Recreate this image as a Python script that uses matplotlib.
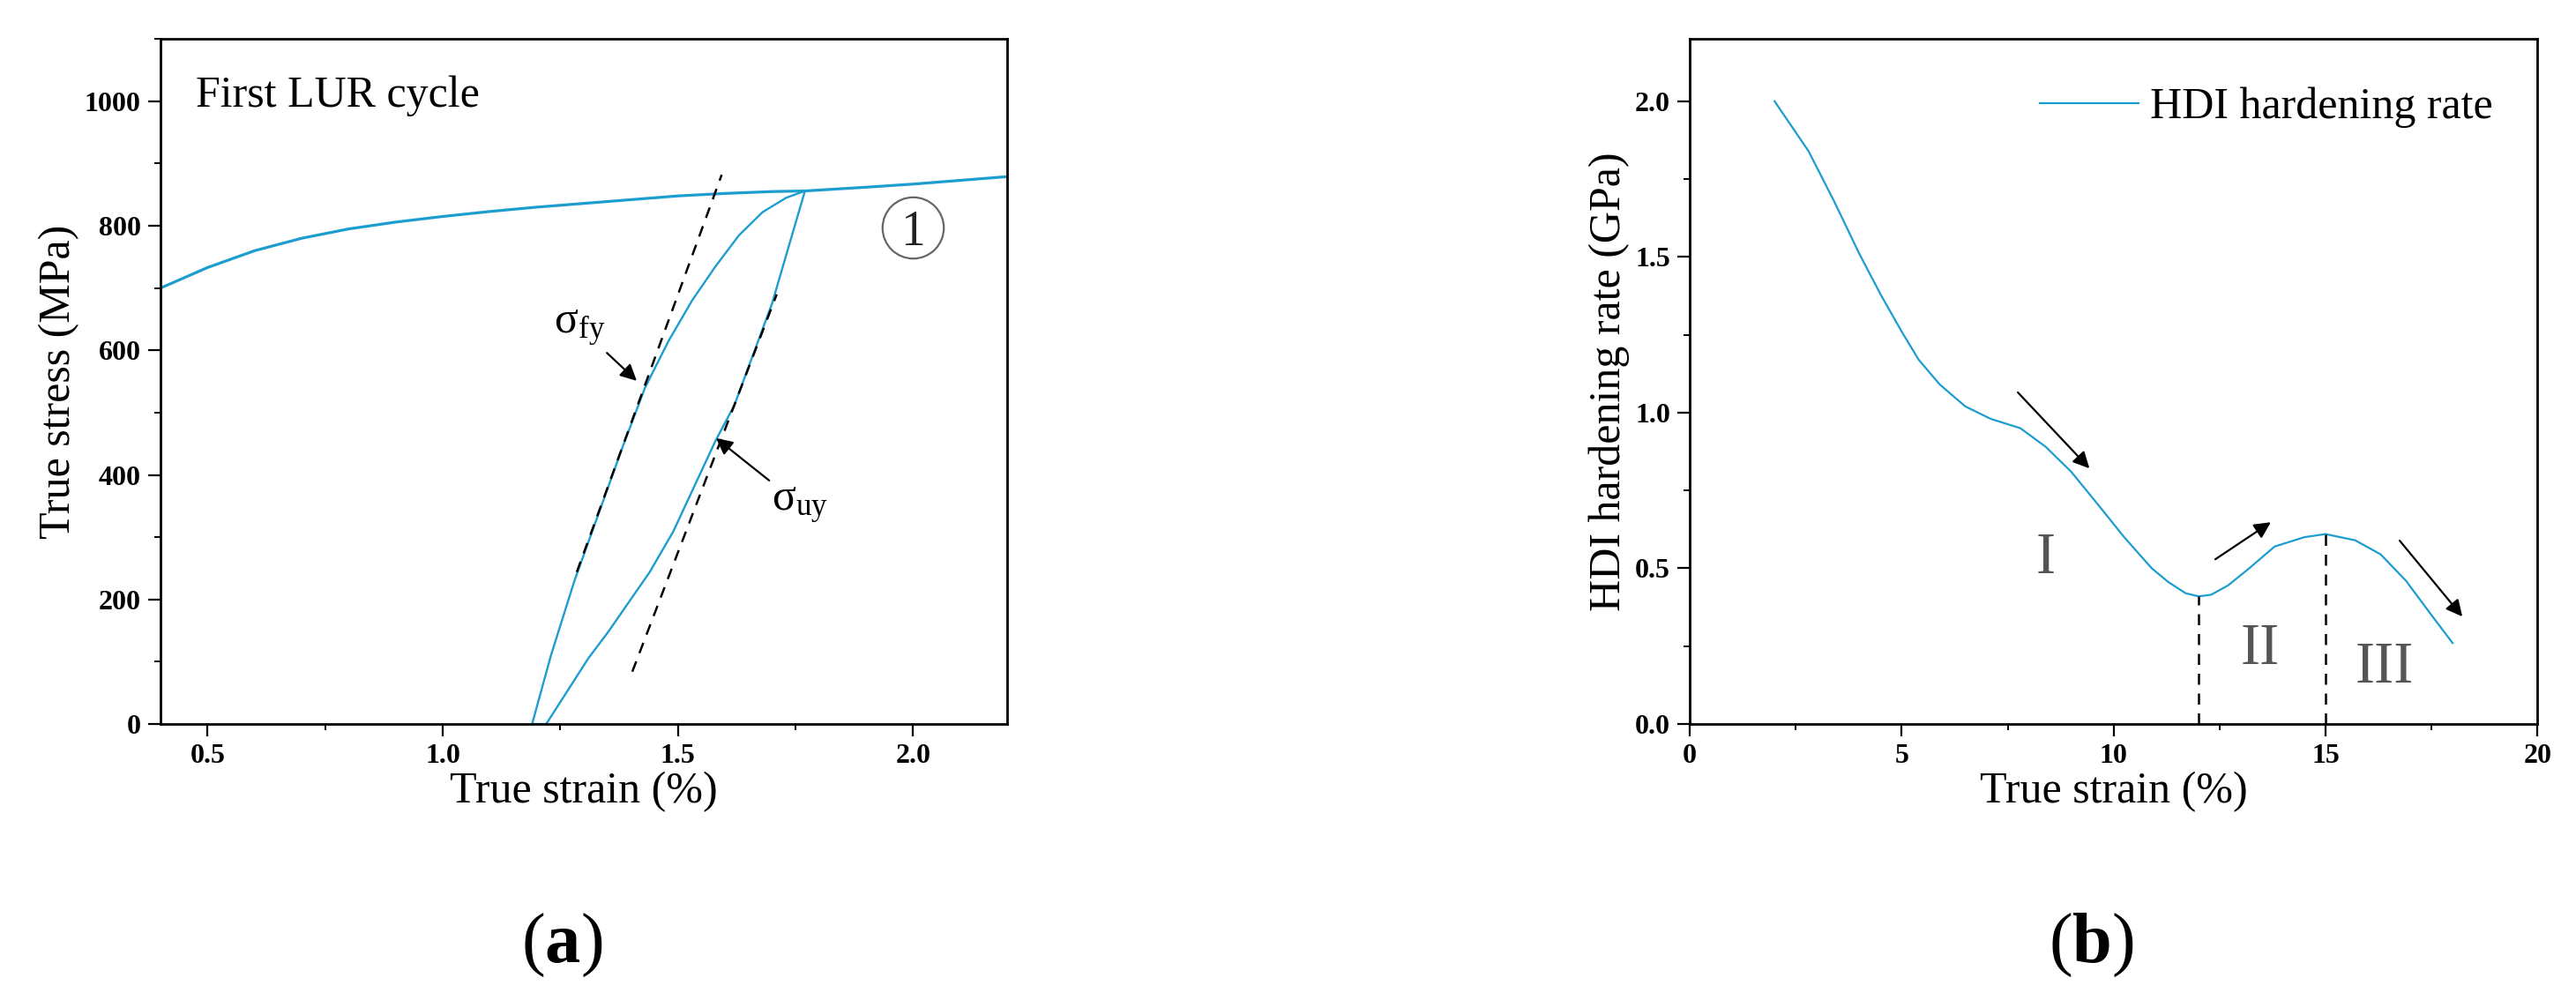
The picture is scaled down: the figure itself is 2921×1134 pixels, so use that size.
import matplotlib

matplotlib.use("Agg")
import matplotlib.pyplot as plt  # noqa: E402
from matplotlib.ticker import MultipleLocator  # noqa: E402

plt.rcParams["font.family"] = ["Liberation Serif", "DejaVu Serif"]
plt.rcParams["mathtext.fontset"] = "custom"
plt.rcParams["mathtext.rm"] = "Liberation Serif"
plt.rcParams["mathtext.it"] = "Liberation Serif"
plt.rcParams["mathtext.bf"] = "Liberation Serif:bold"

BLUE = "#1C9DD0"

# (a) first loading-unloading-reloading cycle
mono_strain = [0.40, 0.50, 0.60, 0.70, 0.80, 0.90, 1.00, 1.10, 1.20, 1.30,
               1.40, 1.50, 1.60, 1.70, 1.77, 1.90, 2.00, 2.10, 2.20]
mono_stress = [700, 733, 760, 780, 795, 806, 815, 823, 830, 836,
               842, 848, 852, 855, 856, 862, 867, 873, 879]

unload_strain = [1.77, 1.70, 1.62, 1.58, 1.49, 1.44, 1.35, 1.31, 1.22, 1.19]
unload_stress = [856, 675, 512, 455, 309, 244, 146, 106, 0, 0]

reload_strain = [1.19, 1.23, 1.28, 1.33, 1.38, 1.43, 1.48, 1.53, 1.58,
                 1.63, 1.68, 1.73, 1.77]
reload_stress = [0, 110, 230, 335, 440, 540, 615, 680, 735,
                 785, 822, 845, 856]

fy_tangent_strain = [1.285, 1.593]
fy_tangent_stress = [244, 882]
uy_tangent_strain = [1.403, 1.71]
uy_tangent_stress = [84, 690]

# (b) HDI hardening rate
hdi_strain = [2.0, 2.8, 3.4, 4.0, 4.5, 5.0, 5.4, 5.9, 6.5, 7.1, 7.8, 8.4,
              9.0, 9.6, 10.25, 10.9, 11.3, 11.7, 12.0, 12.3, 12.7, 13.2,
              13.8, 14.5, 15.0, 15.7, 16.3, 16.9, 17.5, 18.0]
hdi_rate = [2.0, 1.84, 1.68, 1.51, 1.38, 1.26, 1.17, 1.09, 1.02, 0.98, 0.95,
            0.89, 0.81, 0.71, 0.60, 0.50, 0.455, 0.42, 0.41, 0.415, 0.445,
            0.50, 0.57, 0.60, 0.61, 0.59, 0.545, 0.46, 0.35, 0.26]
stage_strain = [12, 15]
stage_rate = [0.41, 0.61]
stage_names = ["I", "II", "III"]
stage_label_x = [8.4, 13.45, 16.4]
stage_label_y = [0.53, 0.24, 0.18]

TICK_FS = 23
LABEL_FS = 36


def style_axes(ax):
    for s in ax.spines.values():
        s.set_linewidth(2.0)
    ax.tick_params(which="major", direction="out", length=10, width=1.6,
                   labelsize=TICK_FS, pad=6, top=False, right=False)
    ax.tick_params(which="minor", direction="out", length=5, width=1.4,
                   top=False, right=False)
    for lbl in ax.get_xticklabels() + ax.get_yticklabels():
        lbl.set_fontweight("bold")


def arrow(ax, tail, head):
    ax.annotate("", xy=head, xytext=tail,
                arrowprops=dict(arrowstyle="-|>", color="black", lw=1.6,
                                mutation_scale=28, shrinkA=0, shrinkB=0))


fig = plt.figure(figsize=(29.21, 11.34), dpi=100)

# ---------- (a)
ax1 = fig.add_axes([0.0623, 0.276, 0.3287, 0.685])
ax1.plot(mono_strain, mono_stress, color=BLUE, lw=2.3)
ax1.plot(unload_strain, unload_stress, color=BLUE, lw=1.7)
ax1.plot(reload_strain, reload_stress, color=BLUE, lw=1.7)
ax1.plot(fy_tangent_strain, fy_tangent_stress, color="black", lw=1.8,
         ls=(0, (5, 4)))
ax1.plot(uy_tangent_strain, uy_tangent_stress, color="black", lw=1.8,
         ls=(0, (5, 4)))
ax1.set_xlim(0.4, 2.2)
ax1.set_ylim(0, 1100)
ax1.set_xticks([0.5, 1.0, 1.5, 2.0])
ax1.set_yticks([0, 200, 400, 600, 800, 1000])
ax1.xaxis.set_minor_locator(MultipleLocator(0.25))
ax1.yaxis.set_minor_locator(MultipleLocator(100))
ax1.set_xlabel("True strain (%)", fontsize=LABEL_FS, labelpad=2)
ax1.set_ylabel("True stress (MPa)", fontsize=LABEL_FS, labelpad=4)
style_axes(ax1)

ax1.text(0.475, 1008, "First LUR cycle", fontsize=LABEL_FS, va="center")
ax1.text(1.236, 636, r"$\mathrm{\sigma_{fy}}$", fontsize=LABEL_FS,
         va="center")
arrow(ax1, (1.349, 596), (1.4125, 551))
ax1.text(1.70, 351, r"$\mathrm{\sigma_{uy}}$", fontsize=LABEL_FS,
         va="center")
arrow(ax1, (1.694, 391), (1.581, 459))
ax1.plot([2.0], [797], marker="o", ms=50, mfc="none", mec="#666666",
         mew=1.6)
ax1.text(2.0, 797, "1", fontsize=40, ha="center", va="center_baseline",
         color="#222222")

# ---------- (b)
ax2 = fig.add_axes([0.656, 0.276, 0.329, 0.685])
ax2.plot(hdi_strain, hdi_rate, color=BLUE, lw=1.6, label="HDI hardening rate")
ax2.vlines(stage_strain, 0, stage_rate, colors="black", lw=1.8,
           linestyles=(0, (5, 4)))
ax2.set_xlim(0, 20)
ax2.set_ylim(0, 2.2)
ax2.set_xticks([0, 5, 10, 15, 20])
ax2.set_yticks([0.0, 0.5, 1.0, 1.5, 2.0])
ax2.xaxis.set_minor_locator(MultipleLocator(2.5))
ax2.yaxis.set_minor_locator(MultipleLocator(0.25))
ax2.set_xlabel("True strain (%)", fontsize=LABEL_FS, labelpad=2)
ax2.set_ylabel("HDI hardening rate (GPa)", fontsize=LABEL_FS, labelpad=4)
style_axes(ax2)
ax2.legend(loc="upper right", bbox_to_anchor=(0.947, 0.93), frameon=False,
           fontsize=LABEL_FS, handlelength=2.25, handletextpad=0.25,
           borderpad=0, borderaxespad=0)

for name, x, y in zip(stage_names, stage_label_x, stage_label_y):
    ax2.text(x, y, name, fontsize=48, color="#555555", ha="center",
             va="center")
arrow(ax2, (7.74, 1.065), (9.43, 0.821))
arrow(ax2, (12.40, 0.529), (13.71, 0.648))
arrow(ax2, (16.75, 0.589), (18.23, 0.345))

# panel tags
fig.text(0.218, 0.055, r"($\mathbf{a}$)", fontsize=58, ha="center",
         va="center")
fig.text(0.812, 0.055, r"($\mathbf{b}$)", fontsize=58, ha="center",
         va="center")

fig.savefig("out.png", dpi=100)
plt.close(fig)
